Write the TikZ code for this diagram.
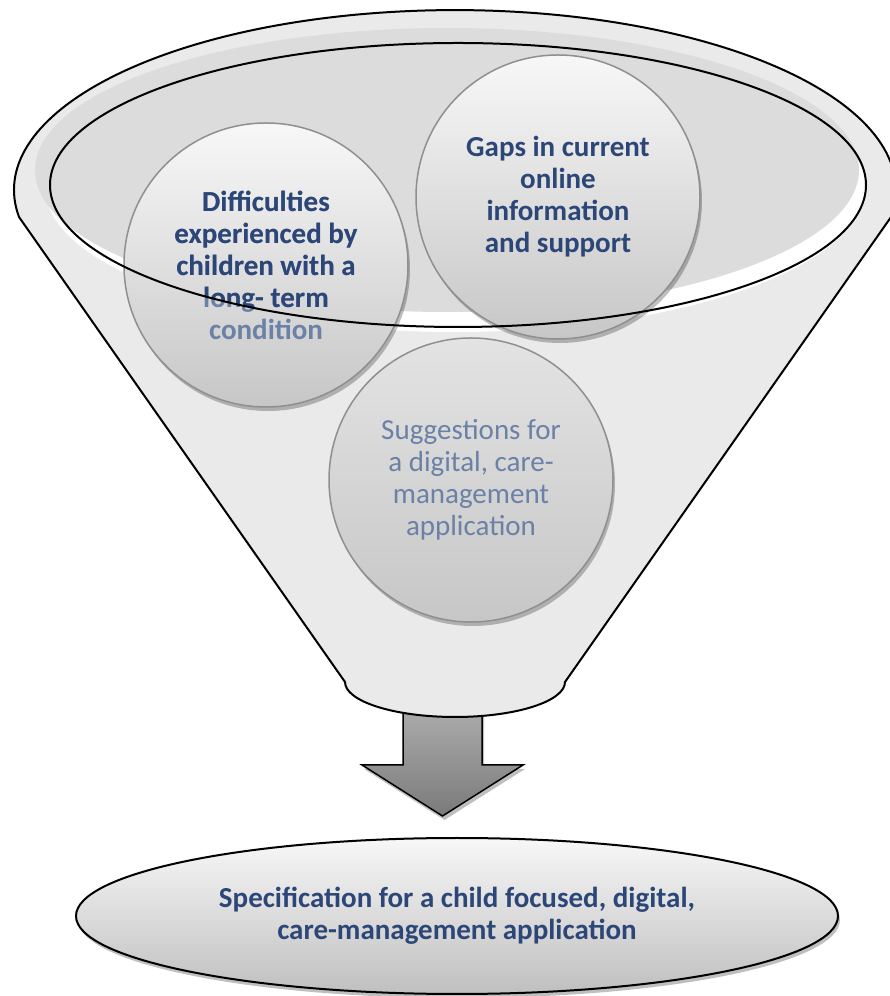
\documentclass[tikz,border=0pt]{standalone}
\usepackage{fontspec}
\setmainfont{Carlito}
\usetikzlibrary{shadows,shapes.geometric}
\definecolor{darktxt}{HTML}{2B4677}
\definecolor{lighttxt}{HTML}{6B81A5}
\definecolor{funnelfill}{HTML}{EAEAEA}
\definecolor{bandgray}{HTML}{DCDCDC}
\definecolor{bubbleedge}{HTML}{8F8F8F}
\tikzset{
  bubble/.style={circle, draw=bubbleedge, line width=1.5pt, minimum size=284pt, inner sep=0pt,
    top color=#1, bottom color=black!22,
    drop shadow={shadow xshift=2pt, shadow yshift=-4pt, opacity=0.25, fill=black}},
  boldtxt/.style={font=\bfseries\fontsize{29}{32}\selectfont, align=center, inner sep=0pt},
  regtxt/.style={font=\fontsize{29}{32}\selectfont, align=center, inner sep=0pt},
  thickline/.style={line width=2pt, draw=black}
}
\begin{document}
\begin{tikzpicture}[x=1pt,y=1pt]
\useasboundingbox (0,0) rectangle (889,996);
% arrow (behind funnel bottom)
\draw[line width=1.5pt, top color=black!32, bottom color=black!52,
  drop shadow={shadow xshift=2pt, shadow yshift=-4pt, opacity=0.25, fill=black}]
  (403,292) -- (403,231) -- (362,231) -- (442.5,180) -- (523,231) -- (482,231) -- (482,292) -- cycle;
% funnel body
\draw[thickline, fill=funnelfill]
  (19,779) arc[start angle=188.6, end angle=-8.6, x radius=441, y radius=180]
  -- (565,314) arc[start angle=0, end angle=-180, x radius=110, y radius=35] -- cycle;
% inner rim bands
\fill[white] (455,809) ellipse[x radius=410, y radius=145];
\fill[bandgray] (447,826) ellipse[x radius=412, y radius=142];
% bubbles
\node[bubble=black!3] (diff) at (266,731) {};
\node[bubble=black!3] (gaps) at (558,799) {};
\node[bubble=black!11] (sugg) at (471,516) {};
% texts
\node[boldtxt, text=lighttxt] (diffL) at (diff.center) {Difficulties\\experienced by\\children with a\\long- term\\condition};
\begin{scope}
  \clip (458,811) ellipse[x radius=408, y radius=142];
  \node[boldtxt, text=darktxt] (diffD) at (diff.center) {Difficulties\\experienced by\\children with a\\long- term\\condition};
\end{scope}
\node[boldtxt, text=darktxt] (gapsT) at (gaps.center) {Gaps in current\\online\\information\\and support};
\node[regtxt, text=lighttxt] (suggT) at (sugg.center) {Suggestions for\\a digital, care-\\management\\application};
% inner rim line
\draw[thickline] (458,811) ellipse[x radius=408, y radius=142];
% result ellipse
\node[ellipse, thickline, minimum width=762pt, minimum height=156pt, inner sep=0pt,
  top color=black!3, bottom color=black!25,
  drop shadow={shadow xshift=2pt, shadow yshift=-4pt, opacity=0.25, fill=black}] (spec) at (457,80) {};
\node[boldtxt, text=darktxt] (specT) at (spec.center) {Specification for a child focused, digital,\\care-management application};
\end{tikzpicture}
\end{document}
